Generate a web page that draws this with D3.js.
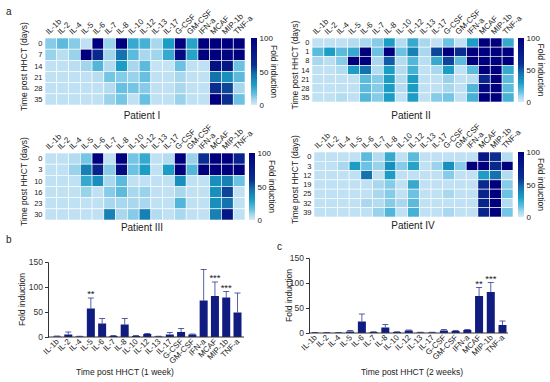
<!DOCTYPE html>
<html>
<head>
<meta charset="utf-8">
<script src="https://cdn.jsdelivr.net/npm/d3@7"></script>
<style>
body{margin:0;background:#fff;}
svg{display:block;font-family:"Liberation Sans",Arial,sans-serif;}
</style>
</head>
<body>
<div id="chart"></div>
<script>
// cytokine panel, same order in all charts
var cytokines = ["IL-1b","IL-2","IL-4","IL-5","IL-6","IL-7","IL-8","IL-10","IL-12","IL-13","IL-17","G-CSF","GM-CSF","IFN-a","MCAF","MIP-1b","TNF-a"];

// heatmaps: fold induction per day post HHCT
var daysP1 = ["0","7","14","21","28","35"];
var foldP1 = [
	[12,18,12,4,100,10,100,25,22,8,30,100,28,100,100,100,100],
	[10,5,10,100,65,9,45,18,8,9,25,90,28,100,100,95,100],
	[4,4,5,9,20,6,30,8,18,3,3,15,4,4,85,80,15],
	[4,4,4,4,5,14,12,10,16,4,4,8,4,4,45,35,18],
	[4,4,4,4,4,6,16,14,12,4,4,8,4,4,60,55,8],
	[4,4,4,4,4,10,14,4,16,4,4,10,4,4,100,60,15]
];

var daysP2 = ["0","1","8","14","21","28","35"];
var foldP2 = [
	[4,4,4,6,8,12,30,6,25,8,4,15,4,30,100,100,25],
	[18,30,18,25,100,15,100,15,40,8,55,100,60,100,100,100,100],
	[8,5,12,100,100,8,50,6,20,5,25,55,18,100,100,100,100],
	[4,4,6,30,45,6,30,6,22,4,8,30,4,18,100,100,25],
	[4,4,4,4,18,12,30,6,30,4,4,10,4,5,65,100,18],
	[4,4,4,4,18,12,30,6,30,4,4,8,4,20,90,100,18],
	[4,4,6,4,20,12,30,4,30,4,12,14,4,22,100,100,22]
];

var daysP3 = ["0","3","10","16","23","30"];
var foldP3 = [
	[4,4,6,14,100,4,100,14,25,4,6,100,10,60,100,100,70],
	[4,4,10,40,70,12,90,15,30,4,30,100,20,100,100,100,100],
	[4,4,4,25,35,8,18,4,4,4,4,35,4,4,35,40,15],
	[4,4,4,10,4,12,18,8,10,4,4,8,4,4,35,55,4],
	[4,4,4,4,4,8,8,8,8,4,4,20,4,4,35,45,4],
	[4,4,4,4,4,40,8,12,40,6,4,8,4,4,40,80,4]
];

var daysP4 = ["0","3","12","19","25","32","39"];
var foldP4 = [
	[4,4,4,4,18,6,25,4,18,4,4,4,4,4,80,60,6],
	[4,4,8,30,15,10,35,12,28,4,10,35,12,100,100,65,100],
	[4,4,4,4,45,4,30,4,4,4,4,12,4,4,30,45,6],
	[4,4,4,4,4,8,12,4,25,4,4,4,4,4,65,100,12],
	[4,4,4,4,4,8,12,4,15,4,4,8,4,4,70,100,15],
	[4,4,4,4,8,6,12,8,18,4,4,4,4,4,70,100,6],
	[4,4,4,4,4,10,20,4,22,4,4,8,4,4,70,100,14]
];

// bar charts: mean fold induction and top of error bar
var week1Mean  = [1,5,1,57,27,2,25,2,6,1,5,10,5,73,82,79,49];
var week1Upper = [2,10,1.5,78,37,3,37,3,7,1.5,9,17,6,135,110,91,88];
var week1Stars = ["","","","**","","","","","","","","","","","***","***",""];

var week2Mean  = [0.5,0.5,0.5,3,23,2,11,2,5,1,1,5,4,6,74,82,16];
var week2Upper = [1,1,1,5,38,2.5,17,2.5,6,1.5,1.5,7,5,7,91,101,24];
var week2Stars = ["","","","","","","","","","","","","","","**","***",""];

var foldTicks = [0,50,100,150];
var barColor = "#101c80";

var W = 550, H = 382;
var svg = d3.select("#chart").append("svg").attr("width", W).attr("height", H);

var color = d3.scaleLinear()
	.domain([0, 8, 15, 30, 45, 60, 100])
	.range(["#d4e9f8", "#a9d8ee", "#6cc2e3", "#1c9dc5", "#1473ae", "#0a2e90", "#00007e"])
	.clamp(true);

// gradient for colour bars
var grad = svg.append("defs").append("linearGradient")
	.attr("id", "cbGrad")
	.attr("x1", 0).attr("y1", 1).attr("x2", 0).attr("y2", 0);
grad.selectAll("stop").data(d3.range(0, 101, 5)).join("stop")
	.attr("offset", function(d){ return d + "%"; })
	.attr("stop-color", function(d){ return color(d); });

function drawHeatmap(cfg, days, values, name){
	var g = svg.append("g");
	var x = d3.scaleBand().domain(cytokines).range([cfg.x0, cfg.x1]);
	var y = d3.scaleBand().domain(days).range([cfg.y0, cfg.y1]);

	var cells = [];
	days.forEach(function(day, i){
		cytokines.forEach(function(c, j){
			cells.push({day: day, c: c, v: values[i][j]});
		});
	});

	g.selectAll("rect.cell").data(cells).join("rect")
		.attr("class", "cell")
		.attr("x", function(d){ return x(d.c); })
		.attr("y", function(d){ return y(d.day); })
		.attr("width", x.bandwidth())
		.attr("height", y.bandwidth())
		.attr("fill", function(d){ return color(d.v); })
		.attr("stroke", "#fff")
		.attr("stroke-width", 0.6);

	// column labels
	g.selectAll("text.col").data(cytokines).join("text")
		.attr("class", "col")
		.attr("transform", function(c){
			return "translate(" + (x(c) + x.bandwidth() / 2 - 2) + "," + (cfg.y0 - 3) + ") rotate(-45)";
		})
		.style("font-size", "8px")
		.attr("fill", "#222")
		.text(function(c){ return c; });

	// row labels
	g.selectAll("text.row").data(days).join("text")
		.attr("class", "row")
		.attr("x", cfg.x0 - 2.5)
		.attr("y", function(d){ return y(d) + y.bandwidth() / 2; })
		.attr("dy", "0.35em")
		.attr("text-anchor", "end")
		.style("font-size", "7.5px")
		.attr("fill", "#222")
		.text(function(d){ return d; });

	g.append("text")
		.attr("transform", "translate(" + cfg.titleX + "," + ((cfg.y0 + cfg.y1) / 2 - 5) + ") rotate(-90)")
		.attr("text-anchor", "middle")
		.style("font-size", "8.5px")
		.attr("fill", "#222")
		.text("Time post HHCT (days)");

	// colour bar
	var cb = d3.scaleLinear().domain([0, 100]).range([cfg.y1, cfg.y0]);
	g.append("rect")
		.attr("x", cfg.cbX).attr("y", cfg.y0)
		.attr("width", 6).attr("height", cfg.y1 - cfg.y0)
		.attr("fill", "url(#cbGrad)");
	var ax = g.append("g")
		.attr("transform", "translate(" + (cfg.cbX + 6) + ",0)")
		.call(d3.axisRight(cb).tickValues([0, 50, 100]).tickSize(0).tickPadding(2.5));
	ax.select(".domain").remove();
	ax.selectAll("text").style("font-size", "8px").attr("fill", "#222")
		.style("font-family", "Liberation Sans, Arial, sans-serif");

	g.append("text")
		.attr("transform", "translate(" + (cfg.cbX + 20) + "," + ((cfg.y0 + cfg.y1) / 2) + ") rotate(90)")
		.attr("text-anchor", "middle")
		.style("font-size", "8.5px")
		.attr("fill", "#222")
		.text("Fold induction");

	g.append("text")
		.attr("x", cfg.labelX).attr("y", cfg.labelY)
		.attr("text-anchor", "middle")
		.style("font-size", "10px")
		.attr("fill", "#222")
		.text(name);
}

function drawBars(cfg, means, uppers, stars, title){
	var g = svg.append("g");
	var x = d3.scalePoint().domain(cytokines).range([cfg.c0, cfg.c1]);
	var y = d3.scaleLinear().domain([0, 150]).range([cfg.yb, cfg.yt]);
	var data = cytokines.map(function(c, i){
		return {c: c, m: means[i], u: uppers[i], s: stars[i]};
	});

	g.selectAll("rect.bar").data(data).join("rect")
		.attr("class", "bar")
		.attr("x", function(d){ return x(d.c) - 4; })
		.attr("y", function(d){ return y(d.m); })
		.attr("width", 8)
		.attr("height", function(d){ return y(0) - y(d.m); })
		.attr("fill", barColor);

	// error bars (upper only)
	g.selectAll("line.err").data(data).join("line")
		.attr("class", "err")
		.attr("x1", function(d){ return x(d.c); })
		.attr("x2", function(d){ return x(d.c); })
		.attr("y1", function(d){ return y(d.m); })
		.attr("y2", function(d){ return y(d.u); })
		.attr("stroke", "#2c3a94").attr("stroke-width", 0.8);
	g.selectAll("line.cap").data(data).join("line")
		.attr("class", "cap")
		.attr("x1", function(d){ return x(d.c) - 3; })
		.attr("x2", function(d){ return x(d.c) + 3; })
		.attr("y1", function(d){ return y(d.u); })
		.attr("y2", function(d){ return y(d.u); })
		.attr("stroke", "#2c3a94").attr("stroke-width", 0.8);

	g.selectAll("text.star").data(data.filter(function(d){ return d.s; })).join("text")
		.attr("class", "star")
		.attr("x", function(d){ return x(d.c); })
		.attr("y", function(d){ return y(d.u) - 1; })
		.attr("text-anchor", "middle")
		.style("font-size", "9.5px")
		.attr("fill", "#222")
		.text(function(d){ return d.s; });

	var ya = g.append("g")
		.attr("transform", "translate(" + cfg.a0 + ",0)")
		.call(d3.axisLeft(y).tickValues(foldTicks).tickSize(3).tickPadding(2));
	ya.select(".domain").attr("stroke", "#333");
	ya.selectAll("line").attr("stroke", "#333");
	ya.selectAll("text").style("font-size", "8.5px").attr("fill", "#333")
		.style("font-family", "Liberation Sans, Arial, sans-serif");

	g.append("line")
		.attr("x1", cfg.a0).attr("x2", cfg.a1)
		.attr("y1", cfg.yb).attr("y2", cfg.yb)
		.attr("stroke", "#333");

	g.selectAll("text.xl").data(cytokines).join("text")
		.attr("class", "xl")
		.attr("transform", function(c){
			return "translate(" + (x(c) + 2.5) + "," + (cfg.yb + 5) + ") rotate(-45)";
		})
		.attr("text-anchor", "end")
		.style("font-size", "8px")
		.attr("fill", "#222")
		.text(function(c){ return c; });

	g.append("text")
		.attr("transform", "translate(" + cfg.ytX + "," + ((cfg.yb + cfg.yt) / 2) + ") rotate(-90)")
		.attr("text-anchor", "middle")
		.style("font-size", "8.5px")
		.attr("fill", "#222")
		.text("Fold induction");

	g.append("text")
		.attr("x", cfg.xtX).attr("y", 375)
		.attr("text-anchor", "middle")
		.style("font-size", "8.5px")
		.attr("fill", "#222")
		.text(title);
}

drawHeatmap({x0: 45, x1: 245, y0: 38, y1: 105, titleX: 27, cbX: 251, labelX: 142, labelY: 119}, daysP1, foldP1, "Patient I");
drawHeatmap({x0: 312, x1: 514, y0: 38, y1: 102, titleX: 298, cbX: 518, labelX: 411, labelY: 119}, daysP2, foldP2, "Patient II");
drawHeatmap({x0: 45, x1: 245, y0: 153, y1: 220, titleX: 27, cbX: 249, labelX: 142, labelY: 231}, daysP3, foldP3, "Patient III");
drawHeatmap({x0: 314, x1: 513, y0: 152, y1: 217, titleX: 298, cbX: 518, labelX: 413, labelY: 229}, daysP4, foldP4, "Patient IV");

drawBars({c0: 57, c1: 237.5, a0: 48, a1: 244, yb: 337, yt: 262, ytX: 25, xtX: 125},
	week1Mean, week1Upper, week1Stars, "Time post HHCT (1 week)");
drawBars({c0: 315, c1: 502.5, a0: 309, a1: 508, yb: 333, yt: 258, ytX: 292, xtX: 412},
	week2Mean, week2Upper, week2Stars, "Time post HHCT (2 weeks)");

// panel letters
[["a", 6, 15], ["b", 6, 243], ["c", 277, 250]].forEach(function(p){
	svg.append("text").attr("x", p[1]).attr("y", p[2])
		.style("font-size", "10px").attr("fill", "#222").text(p[0]);
});
</script>
</body>
</html>
